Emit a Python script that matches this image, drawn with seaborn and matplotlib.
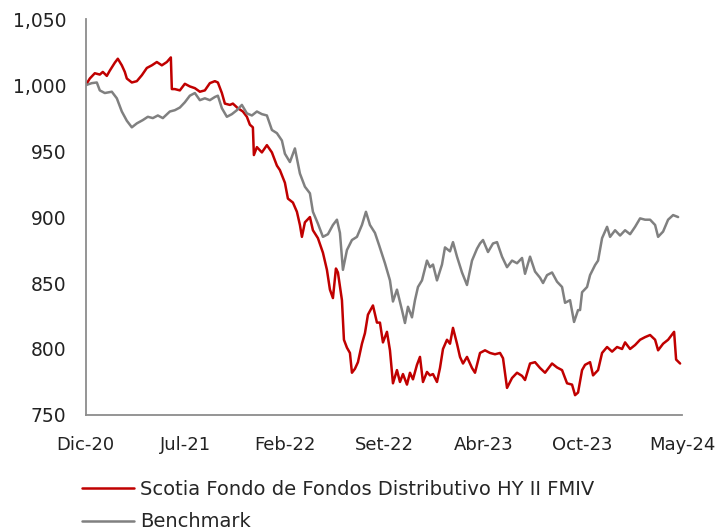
import numpy as np
import pandas as pd
import matplotlib
matplotlib.use("Agg")
import matplotlib.pyplot as plt
import seaborn as sns
from matplotlib.ticker import FuncFormatter

fondo_x = [0, 4, 9, 14, 17, 21, 24, 29, 32, 36, 39, 41, 46, 51, 56, 61, 66, 71, 76, 81,
           85, 86, 89, 94, 99, 104, 109, 114, 119, 124, 129, 132, 136, 139, 144, 147, 152,
           157, 161, 164, 167, 168, 171, 176, 181, 186, 191, 194, 199, 202, 207, 211, 214,
           216, 219, 224, 227, 232, 237, 241, 244, 247, 250, 252, 256, 258, 261, 264, 266,
           269, 272, 276, 279, 282, 287, 291, 294, 297, 301, 304, 307, 311, 314, 317, 321,
           324, 327, 331, 334, 337, 341, 344, 347, 351, 354, 357, 361, 364, 367, 371, 374,
           377, 381, 386, 389, 394, 399, 404, 409, 414, 417, 421, 426, 431, 436, 439, 444,
           449, 454, 459, 466, 471, 476, 481, 486, 489, 492, 496, 499, 504, 507, 512, 516,
           521, 526, 531, 536, 539, 544, 549, 554, 559, 564, 569, 572, 577, 582, 587, 588,
           590, 594]
fondo_y = [1000, 1005, 1009, 1008, 1010, 1007, 1011, 1017, 1020, 1015, 1010, 1005, 1002,
           1003, 1007.5, 1013, 1015, 1017.5, 1015, 1017.5, 1021, 997, 997, 996, 1001, 999,
           997.7, 995, 996, 1001.5, 1003, 1002, 994, 986, 985, 986, 982.5, 980, 976, 970,
           968, 947, 953, 949, 954.5, 949, 939, 935.6, 926, 914, 911, 904, 894, 885, 896,
           900, 890, 884, 873, 860, 845, 838.6, 861, 858, 837, 807, 801, 797, 782, 785, 790,
           804, 812, 826, 833, 820, 820, 805, 813, 799, 774, 784, 775, 781, 773, 782, 777,
           788, 794, 775, 782.6, 780, 781, 775, 785.6, 800, 807, 804, 816, 804, 794, 789,
           794, 785.6, 782, 797, 799, 797, 796, 797, 793, 770.5, 778, 782, 779.6, 776.5,
           789, 790, 785.6, 782, 789, 786, 784, 774, 773, 765, 767, 784, 788, 790, 780, 784,
           797, 801.5, 798, 801.5, 800, 805, 800, 803, 807, 809, 810.6, 807, 799, 804, 807,
           812, 813, 792, 789]

bench_x = [0, 6, 11, 14, 19, 26, 31, 36, 41, 46, 51, 57, 62, 67, 72, 77, 84, 89, 94, 99,
           104, 109, 114, 119, 124, 129, 132, 136, 141, 146, 151, 156, 161, 166, 171, 176,
           181, 186, 191, 196, 199, 204, 209, 214, 219, 224, 227, 232, 237, 242, 247, 251,
           254, 257, 261, 266, 271, 276, 280, 284, 289, 293, 299, 304, 307, 311, 316, 319,
           322, 326, 329, 332, 336, 341, 344, 347, 351, 356, 359, 364, 367, 371, 376, 381,
           386, 391, 394, 397, 402, 407, 411, 416, 421, 426, 431, 436, 439, 444, 449, 454,
           457, 461, 466, 471, 476, 479, 484, 488, 492, 494, 496, 501, 504, 509, 512, 516,
           521, 524, 529, 534, 539, 544, 549, 554, 559, 564, 569, 572, 577, 582, 587, 592]
bench_y = [1000, 1001.5, 1002, 996, 994, 995, 990, 980, 973, 968, 971, 973.5, 976, 975,
           977, 975, 980, 981, 983, 987, 992, 994, 988.6, 990, 988.6, 991, 992, 982.5, 976,
           978, 981, 985, 978.6, 977, 980, 978, 977, 966, 963.6, 958, 948, 941.7, 952, 933,
           923, 918, 904, 895, 885, 887, 894, 898, 888, 860, 875, 882.6, 885, 894, 904, 894,
           888, 879, 865, 852, 836, 845, 829.5, 819.7, 832, 824, 837, 847, 852, 867, 862,
           864, 852, 864, 877, 874, 881, 870, 858, 848.5, 867, 876, 880, 882.6, 873.5, 880,
           881, 870, 862, 867, 865, 869, 857, 870, 858.7, 854, 850, 856, 858, 851, 847, 835,
           837, 820.5, 829.5, 829.5, 843, 847, 856, 863.6, 867, 884, 892.6, 885, 890, 886,
           890, 887, 892.6, 899, 898, 898, 894, 885, 889, 898, 901.5, 900]

tick_labels = ["Dic-20", "Jul-21", "Feb-22", "Set-22", "Abr-23", "Oct-23", "May-24"]
fondo_name = "Scotia Fondo de Fondos Distributivo HY II FMIV"
bench_name = "Benchmark"

df = pd.concat([
    pd.DataFrame({"obs": fondo_x, "valor": fondo_y, "serie": fondo_name}),
    pd.DataFrame({"obs": bench_x, "valor": bench_y, "serie": bench_name}),
])

sns.set_theme(style="white")
plt.rcParams["font.family"] = ["DejaVu Sans"]

fig = plt.figure(figsize=(7.15, 5.32), dpi=100)
ax = fig.add_axes([0.120, 0.220, 0.834, 0.744])

sns.lineplot(data=df, x="obs", y="valor", hue="serie", estimator=None, sort=False,
             palette={fondo_name: "#C00000", bench_name: "#808080"},
             linewidth=1.8, ax=ax)

ax.set_xlim(0, 596)
ax.set_ylim(750, 1050)
ax.set_xticks(np.linspace(0, 596, len(tick_labels)))
ax.set_xticklabels(tick_labels)
ax.set_yticks(np.arange(750, 1051, 50))
ax.yaxis.set_major_formatter(FuncFormatter(lambda v, p: f"{v:,.0f}"))
ax.set_xlabel("")
ax.set_ylabel("")

sns.despine(ax=ax)
for s in ["left", "bottom"]:
    ax.spines[s].set_color("#8c8c8c")
    ax.spines[s].set_linewidth(1.3)
ax.tick_params(axis="both", which="major", direction="out", length=5, width=1.2,
               color="#8c8c8c", labelcolor="#222222")
ax.tick_params(axis="y", pad=9, labelsize=13.5)
ax.tick_params(axis="x", pad=10, labelsize=13)

sns.move_legend(ax, "upper left", bbox_to_anchor=(-0.02, -0.145), frameon=False,
                title=None, fontsize=14, handlelength=2.7, handletextpad=0.3,
                labelspacing=0.68, borderaxespad=0)

plt.savefig("out.png", dpi=100)
